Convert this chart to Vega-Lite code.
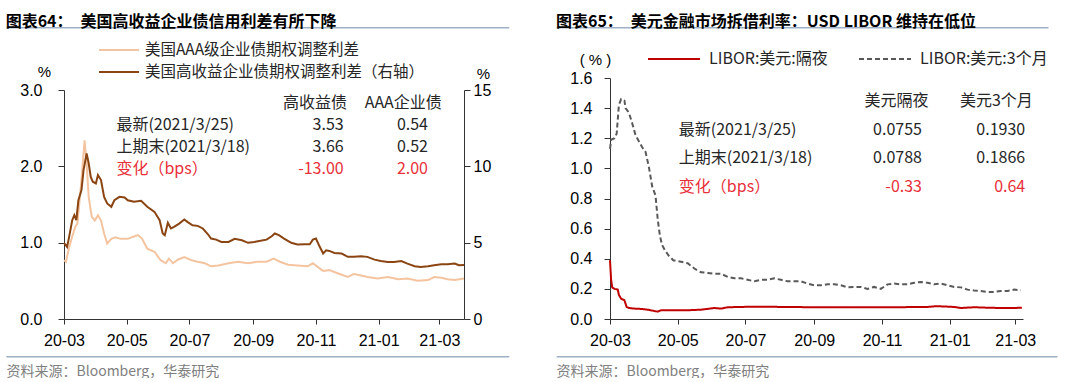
{
"$schema": "https://vega.github.io/schema/vega-lite/v6.json",
"background": "white",
"padding": {"left": 5, "top": 13, "right": 0, "bottom": 0},
"bounds": "flush",
"spacing": 146,
"config": {"view": {"stroke": null}, "font": "Liberation Sans"},
"resolve": {"scale": {"color": "independent", "strokeDash": "independent"}, "legend": {"color": "independent", "strokeDash": "independent"}},
"datasets": {
"aaa": [
{"date":"2020-03-01","v":0.77},{"date":"2020-03-03","v":0.75},{"date":"2020-03-06","v":0.94},{"date":"2020-03-09","v":1.08},{"date":"2020-03-12","v":1.21},{"date":"2020-03-14","v":1.25},{"date":"2020-03-18","v":1.82},{"date":"2020-03-21","v":2.34},{"date":"2020-03-23","v":2.04},{"date":"2020-03-25","v":1.60},{"date":"2020-03-28","v":1.34},{"date":"2020-03-31","v":1.29},{"date":"2020-04-03","v":1.36},{"date":"2020-04-06","v":1.29},{"date":"2020-04-09","v":1.12},{"date":"2020-04-12","v":0.99},{"date":"2020-04-16","v":1.05},{"date":"2020-04-20","v":1.07},{"date":"2020-04-25","v":1.05},{"date":"2020-05-02","v":1.05},{"date":"2020-05-08","v":1.08},{"date":"2020-05-12","v":1.10},{"date":"2020-05-16","v":1.05},{"date":"2020-05-21","v":0.92},{"date":"2020-05-28","v":0.88},{"date":"2020-06-03","v":0.77},{"date":"2020-06-08","v":0.73},{"date":"2020-06-11","v":0.79},{"date":"2020-06-15","v":0.73},{"date":"2020-06-20","v":0.78},{"date":"2020-06-26","v":0.81},{"date":"2020-07-03","v":0.77},{"date":"2020-07-09","v":0.75},{"date":"2020-07-16","v":0.73},{"date":"2020-07-22","v":0.69},{"date":"2020-07-29","v":0.70},{"date":"2020-08-08","v":0.73},{"date":"2020-08-17","v":0.75},{"date":"2020-08-27","v":0.73},{"date":"2020-09-05","v":0.75},{"date":"2020-09-14","v":0.75},{"date":"2020-09-21","v":0.79},{"date":"2020-09-27","v":0.75},{"date":"2020-10-05","v":0.71},{"date":"2020-10-14","v":0.70},{"date":"2020-10-24","v":0.69},{"date":"2020-10-29","v":0.73},{"date":"2020-11-03","v":0.68},{"date":"2020-11-08","v":0.63},{"date":"2020-11-14","v":0.64},{"date":"2020-11-22","v":0.60},{"date":"2020-12-02","v":0.55},{"date":"2020-12-08","v":0.59},{"date":"2020-12-15","v":0.57},{"date":"2020-12-21","v":0.55},{"date":"2020-12-31","v":0.53},{"date":"2021-01-10","v":0.55},{"date":"2021-01-20","v":0.52},{"date":"2021-01-29","v":0.53},{"date":"2021-02-08","v":0.50},{"date":"2021-02-18","v":0.51},{"date":"2021-02-24","v":0.55},{"date":"2021-03-03","v":0.54},{"date":"2021-03-09","v":0.52},{"date":"2021-03-16","v":0.51},{"date":"2021-03-25","v":0.53}
],
"hy": [
{"date":"2020-03-01","v":4.99},{"date":"2020-03-04","v":4.72},{"date":"2020-03-06","v":5.38},{"date":"2020-03-09","v":6.47},{"date":"2020-03-11","v":6.80},{"date":"2020-03-13","v":6.47},{"date":"2020-03-15","v":7.78},{"date":"2020-03-18","v":8.44},{"date":"2020-03-20","v":9.75},{"date":"2020-03-23","v":10.85},{"date":"2020-03-25","v":10.20},{"date":"2020-03-27","v":9.30},{"date":"2020-03-29","v":8.99},{"date":"2020-04-01","v":8.88},{"date":"2020-04-03","v":9.43},{"date":"2020-04-06","v":9.10},{"date":"2020-04-09","v":8.00},{"date":"2020-04-12","v":7.57},{"date":"2020-04-16","v":7.35},{"date":"2020-04-19","v":7.78},{"date":"2020-04-24","v":8.00},{"date":"2020-04-29","v":7.96},{"date":"2020-05-02","v":7.78},{"date":"2020-05-08","v":7.68},{"date":"2020-05-15","v":7.74},{"date":"2020-05-21","v":7.35},{"date":"2020-05-28","v":7.02},{"date":"2020-06-02","v":6.47},{"date":"2020-06-05","v":5.60},{"date":"2020-06-07","v":5.49},{"date":"2020-06-10","v":6.30},{"date":"2020-06-13","v":5.93},{"date":"2020-06-16","v":6.04},{"date":"2020-06-21","v":6.25},{"date":"2020-06-26","v":6.52},{"date":"2020-06-29","v":6.36},{"date":"2020-07-04","v":6.14},{"date":"2020-07-09","v":6.10},{"date":"2020-07-14","v":5.93},{"date":"2020-07-19","v":5.55},{"date":"2020-07-22","v":5.27},{"date":"2020-07-27","v":5.20},{"date":"2020-08-01","v":5.05},{"date":"2020-08-08","v":5.05},{"date":"2020-08-14","v":5.25},{"date":"2020-08-21","v":5.16},{"date":"2020-08-27","v":4.99},{"date":"2020-09-02","v":5.05},{"date":"2020-09-08","v":5.12},{"date":"2020-09-14","v":5.20},{"date":"2020-09-19","v":5.42},{"date":"2020-09-22","v":5.60},{"date":"2020-09-26","v":5.49},{"date":"2020-10-01","v":5.27},{"date":"2020-10-08","v":4.99},{"date":"2020-10-14","v":4.88},{"date":"2020-10-21","v":4.90},{"date":"2020-10-26","v":4.90},{"date":"2020-10-29","v":5.20},{"date":"2020-11-01","v":5.27},{"date":"2020-11-04","v":4.83},{"date":"2020-11-08","v":4.29},{"date":"2020-11-11","v":4.50},{"date":"2020-11-14","v":4.46},{"date":"2020-11-19","v":4.33},{"date":"2020-11-26","v":4.29},{"date":"2020-12-02","v":4.07},{"date":"2020-12-08","v":4.07},{"date":"2020-12-15","v":4.11},{"date":"2020-12-21","v":4.07},{"date":"2020-12-28","v":3.89},{"date":"2021-01-03","v":3.80},{"date":"2021-01-10","v":3.74},{"date":"2021-01-16","v":3.74},{"date":"2021-01-23","v":3.80},{"date":"2021-01-29","v":3.63},{"date":"2021-02-05","v":3.46},{"date":"2021-02-11","v":3.41},{"date":"2021-02-18","v":3.46},{"date":"2021-02-24","v":3.52},{"date":"2021-03-03","v":3.59},{"date":"2021-03-09","v":3.59},{"date":"2021-03-16","v":3.63},{"date":"2021-03-20","v":3.52},{"date":"2021-03-25","v":3.53}
],
"libor": [
{"date":"2020-03-01","s":"LIBOR:美元:隔夜","v":0.39},{"date":"2020-03-02","s":"LIBOR:美元:隔夜","v":0.26},{"date":"2020-03-03","s":"LIBOR:美元:隔夜","v":0.21},{"date":"2020-03-05","s":"LIBOR:美元:隔夜","v":0.20},{"date":"2020-03-08","s":"LIBOR:美元:隔夜","v":0.195},{"date":"2020-03-09","s":"LIBOR:美元:隔夜","v":0.16},{"date":"2020-03-11","s":"LIBOR:美元:隔夜","v":0.135},{"date":"2020-03-14","s":"LIBOR:美元:隔夜","v":0.124},{"date":"2020-03-16","s":"LIBOR:美元:隔夜","v":0.08},{"date":"2020-03-18","s":"LIBOR:美元:隔夜","v":0.073},{"date":"2020-03-23","s":"LIBOR:美元:隔夜","v":0.069},{"date":"2020-03-29","s":"LIBOR:美元:隔夜","v":0.067},{"date":"2020-04-04","s":"LIBOR:美元:隔夜","v":0.062},{"date":"2020-04-10","s":"LIBOR:美元:隔夜","v":0.053},{"date":"2020-04-13","s":"LIBOR:美元:隔夜","v":0.049},{"date":"2020-04-16","s":"LIBOR:美元:隔夜","v":0.058},{"date":"2020-04-27","s":"LIBOR:美元:隔夜","v":0.058},{"date":"2020-05-10","s":"LIBOR:美元:隔夜","v":0.058},{"date":"2020-05-22","s":"LIBOR:美元:隔夜","v":0.062},{"date":"2020-05-28","s":"LIBOR:美元:隔夜","v":0.067},{"date":"2020-06-03","s":"LIBOR:美元:隔夜","v":0.073},{"date":"2020-06-09","s":"LIBOR:美元:隔夜","v":0.069},{"date":"2020-06-15","s":"LIBOR:美元:隔夜","v":0.078},{"date":"2020-06-27","s":"LIBOR:美元:隔夜","v":0.080},{"date":"2020-07-09","s":"LIBOR:美元:隔夜","v":0.082},{"date":"2020-07-21","s":"LIBOR:美元:隔夜","v":0.082},{"date":"2020-08-02","s":"LIBOR:美元:隔夜","v":0.080},{"date":"2020-08-14","s":"LIBOR:美元:隔夜","v":0.080},{"date":"2020-08-26","s":"LIBOR:美元:隔夜","v":0.078},{"date":"2020-09-07","s":"LIBOR:美元:隔夜","v":0.078},{"date":"2020-09-19","s":"LIBOR:美元:隔夜","v":0.078},{"date":"2020-10-01","s":"LIBOR:美元:隔夜","v":0.078},{"date":"2020-10-13","s":"LIBOR:美元:隔夜","v":0.078},{"date":"2020-10-25","s":"LIBOR:美元:隔夜","v":0.078},{"date":"2020-11-06","s":"LIBOR:美元:隔夜","v":0.078},{"date":"2020-11-18","s":"LIBOR:美元:隔夜","v":0.078},{"date":"2020-11-30","s":"LIBOR:美元:隔夜","v":0.080},{"date":"2020-12-12","s":"LIBOR:美元:隔夜","v":0.080},{"date":"2020-12-18","s":"LIBOR:美元:隔夜","v":0.084},{"date":"2020-12-24","s":"LIBOR:美元:隔夜","v":0.084},{"date":"2021-01-05","s":"LIBOR:美元:隔夜","v":0.080},{"date":"2021-01-11","s":"LIBOR:美元:隔夜","v":0.073},{"date":"2021-01-23","s":"LIBOR:美元:隔夜","v":0.078},{"date":"2021-02-04","s":"LIBOR:美元:隔夜","v":0.075},{"date":"2021-02-16","s":"LIBOR:美元:隔夜","v":0.073},{"date":"2021-02-28","s":"LIBOR:美元:隔夜","v":0.073},{"date":"2021-03-07","s":"LIBOR:美元:隔夜","v":0.0755},
{"date":"2020-03-01","s":"LIBOR:美元:3个月","v":1.13},{"date":"2020-03-02","s":"LIBOR:美元:3个月","v":1.19},{"date":"2020-03-05","s":"LIBOR:美元:3个月","v":1.20},{"date":"2020-03-07","s":"LIBOR:美元:3个月","v":1.23},{"date":"2020-03-09","s":"LIBOR:美元:3个月","v":1.42},{"date":"2020-03-11","s":"LIBOR:美元:3个月","v":1.46},{"date":"2020-03-14","s":"LIBOR:美元:3个月","v":1.45},{"date":"2020-03-15","s":"LIBOR:美元:3个月","v":1.40},{"date":"2020-03-18","s":"LIBOR:美元:3个月","v":1.37},{"date":"2020-03-21","s":"LIBOR:美元:3个月","v":1.30},{"date":"2020-03-24","s":"LIBOR:美元:3个月","v":1.22},{"date":"2020-03-27","s":"LIBOR:美元:3个月","v":1.18},{"date":"2020-03-30","s":"LIBOR:美元:3个月","v":1.14},{"date":"2020-04-02","s":"LIBOR:美元:3个月","v":1.11},{"date":"2020-04-05","s":"LIBOR:美元:3个月","v":1.01},{"date":"2020-04-08","s":"LIBOR:美元:3个月","v":0.88},{"date":"2020-04-11","s":"LIBOR:美元:3个月","v":0.82},{"date":"2020-04-13","s":"LIBOR:美元:3个月","v":0.66},{"date":"2020-04-15","s":"LIBOR:美元:3个月","v":0.55},{"date":"2020-04-17","s":"LIBOR:美元:3个月","v":0.49},{"date":"2020-04-20","s":"LIBOR:美元:3个月","v":0.45},{"date":"2020-04-23","s":"LIBOR:美元:3个月","v":0.42},{"date":"2020-04-27","s":"LIBOR:美元:3个月","v":0.39},{"date":"2020-05-04","s":"LIBOR:美元:3个月","v":0.38},{"date":"2020-05-10","s":"LIBOR:美元:3个月","v":0.37},{"date":"2020-05-16","s":"LIBOR:美元:3个月","v":0.335},{"date":"2020-05-22","s":"LIBOR:美元:3个月","v":0.31},{"date":"2020-05-28","s":"LIBOR:美元:3个月","v":0.306},{"date":"2020-06-03","s":"LIBOR:美元:3个月","v":0.30},{"date":"2020-06-09","s":"LIBOR:美元:3个月","v":0.30},{"date":"2020-06-15","s":"LIBOR:美元:3个月","v":0.28},{"date":"2020-06-21","s":"LIBOR:美元:3个月","v":0.27},{"date":"2020-06-27","s":"LIBOR:美元:3个月","v":0.27},{"date":"2020-07-03","s":"LIBOR:美元:3个月","v":0.26},{"date":"2020-07-09","s":"LIBOR:美元:3个月","v":0.25},{"date":"2020-07-15","s":"LIBOR:美元:3个月","v":0.26},{"date":"2020-07-21","s":"LIBOR:美元:3个月","v":0.26},{"date":"2020-07-27","s":"LIBOR:美元:3个月","v":0.27},{"date":"2020-08-02","s":"LIBOR:美元:3个月","v":0.26},{"date":"2020-08-08","s":"LIBOR:美元:3个月","v":0.25},{"date":"2020-08-14","s":"LIBOR:美元:3个月","v":0.25},{"date":"2020-08-20","s":"LIBOR:美元:3个月","v":0.25},{"date":"2020-08-26","s":"LIBOR:美元:3个月","v":0.235},{"date":"2020-09-01","s":"LIBOR:美元:3个月","v":0.224},{"date":"2020-09-07","s":"LIBOR:美元:3个月","v":0.224},{"date":"2020-09-13","s":"LIBOR:美元:3个月","v":0.23},{"date":"2020-09-19","s":"LIBOR:美元:3个月","v":0.23},{"date":"2020-09-25","s":"LIBOR:美元:3个月","v":0.224},{"date":"2020-10-01","s":"LIBOR:美元:3个月","v":0.21},{"date":"2020-10-07","s":"LIBOR:美元:3个月","v":0.213},{"date":"2020-10-13","s":"LIBOR:美元:3个月","v":0.213},{"date":"2020-10-19","s":"LIBOR:美元:3个月","v":0.20},{"date":"2020-10-25","s":"LIBOR:美元:3个月","v":0.213},{"date":"2020-10-31","s":"LIBOR:美元:3个月","v":0.20},{"date":"2020-11-06","s":"LIBOR:美元:3个月","v":0.23},{"date":"2020-11-12","s":"LIBOR:美元:3个月","v":0.235},{"date":"2020-11-18","s":"LIBOR:美元:3个月","v":0.23},{"date":"2020-11-24","s":"LIBOR:美元:3个月","v":0.23},{"date":"2020-11-30","s":"LIBOR:美元:3个月","v":0.24},{"date":"2020-12-06","s":"LIBOR:美元:3个月","v":0.246},{"date":"2020-12-12","s":"LIBOR:美元:3个月","v":0.24},{"date":"2020-12-18","s":"LIBOR:美元:3个月","v":0.23},{"date":"2020-12-24","s":"LIBOR:美元:3个月","v":0.235},{"date":"2020-12-30","s":"LIBOR:美元:3个月","v":0.224},{"date":"2021-01-05","s":"LIBOR:美元:3个月","v":0.213},{"date":"2021-01-11","s":"LIBOR:美元:3个月","v":0.21},{"date":"2021-01-17","s":"LIBOR:美元:3个月","v":0.195},{"date":"2021-01-23","s":"LIBOR:美元:3个月","v":0.19},{"date":"2021-01-29","s":"LIBOR:美元:3个月","v":0.186},{"date":"2021-02-04","s":"LIBOR:美元:3个月","v":0.18},{"date":"2021-02-10","s":"LIBOR:美元:3个月","v":0.18},{"date":"2021-02-16","s":"LIBOR:美元:3个月","v":0.186},{"date":"2021-02-22","s":"LIBOR:美元:3个月","v":0.186},{"date":"2021-02-28","s":"LIBOR:美元:3个月","v":0.195},{"date":"2021-03-06","s":"LIBOR:美元:3个月","v":0.19}
],
"t64": [{"row":1,"item":"最新(2021/3/25)","hy":"3.53","aaa":"0.54"},{"row":2,"item":"上期末(2021/3/18)","hy":"3.66","aaa":"0.52"},{"row":3,"item":"变化（bps）","hy":"-13.00","aaa":"2.00"}],
"h64": [{"row":0,"c1":"高收益债","c2":"AAA企业债"}],
"t65": [{"row":1,"item":"最新(2021/3/25)","on":"0.0755","m3":"0.1930"},{"row":2,"item":"上期末(2021/3/18)","on":"0.0788","m3":"0.1866"},{"row":3,"item":"变化（bps）","on":"-0.33","m3":"0.64"}],
"h65": [{"row":0,"c1":"美元隔夜","c2":"美元3个月"}]
},
"hconcat": [
{
"width": 400, "height": 241,
"title": {"text": "图表64：\u3000美国高收益企业债信用利差有所下降", "anchor": "start", "frame": "bounds", "font": "Noto Sans CJK SC", "fontSize": 16, "fontWeight": "bold", "color": "#000000", "offset": -19, "baseline": "bottom"},
"resolve": {"scale": {"y": "independent"}},
"layer": [
{"data": {"name": "aaa"}, "mark": {"type": "line", "strokeWidth": 2},
 "encoding": {
  "x": {"field": "date", "type": "temporal", "scale": {"type": "utc", "domain": [{"year":2020,"month":3,"date":1,"utc":true},{"year":2021,"month":3,"date":25,"utc":true}]},
   "axis": {"values": [{"year":2020,"month":3,"date":1,"utc":true},{"year":2020,"month":5,"date":1,"utc":true},{"year":2020,"month":7,"date":1,"utc":true},{"year":2020,"month":9,"date":1,"utc":true},{"year":2020,"month":11,"date":1,"utc":true},{"year":2021,"month":1,"date":1,"utc":true},{"year":2021,"month":3,"date":1,"utc":true}],
    "format": "%y-%m", "labelFont": "Liberation Sans", "labelFontSize": 16, "labelColor": "#000000", "labelPadding": 8, "labelFlush": false, "labelOverlap": false, "tickSize": 5, "tickColor": "#333333", "domainColor": "#333333", "grid": false,
    "title": "资料来源：Bloomberg，华泰研究", "titleFont": "Noto Sans CJK SC", "titleFontSize": 14, "titleFontWeight": "normal", "titleColor": "#808080", "titleAlign": "left", "titleAnchor": "start", "titleX": -58, "titleY": 52, "titleBaseline": "middle"}},
  "y": {"field": "v", "type": "quantitative", "scale": {"domain": [0, 3], "range": [241, 12], "nice": false, "zero": false},
   "axis": {"orient": "left", "values": [0, 1, 2, 3], "format": ".1f", "labelFont": "Liberation Sans", "labelFontSize": 16, "labelColor": "#000000", "labelPadding": 16, "tickSize": 6, "tickColor": "#333333", "domainColor": "#333333", "grid": false,
    "title": "%", "titleAngle": 0, "titleX": -20, "titleY": -7, "titleAlign": "center", "titleBaseline": "middle", "titleFont": "Liberation Sans", "titleFontSize": 15, "titleFontWeight": "normal", "titleColor": "#000000"}},
  "color": {"datum": "美国AAA级企业债期权调整利差", "scale": {"domain": ["美国AAA级企业债期权调整利差", "美国高收益企业债期权调整利差（右轴）"], "range": ["#f4c4a0", "#8b4513"]},
   "legend": {"orient": "none", "legendX": 34, "legendY": -36, "direction": "vertical", "title": null, "symbolType": "stroke", "symbolSize": 1600, "symbolStrokeWidth": 2, "labelFont": "Noto Sans CJK SC", "labelFontSize": 15.5, "labelColor": "#262626", "labelOffset": 5, "rowPadding": 5, "clipHeight": 16, "padding": 0, "labelLimit": 400}}
 }},
{"data": {"name": "hy"}, "mark": {"type": "line", "strokeWidth": 2},
 "encoding": {
  "x": {"field": "date", "type": "temporal", "scale": {"type": "utc", "domain": [{"year":2020,"month":3,"date":1,"utc":true},{"year":2021,"month":3,"date":25,"utc":true}]}},
  "y": {"field": "v", "type": "quantitative", "scale": {"domain": [0, 15], "range": [241, 12], "nice": false, "zero": false},
   "axis": {"orient": "right", "values": [0, 5, 10, 15], "format": "d", "labelFont": "Liberation Sans", "labelFontSize": 16, "labelColor": "#000000", "labelPadding": 3, "tickSize": 6, "tickColor": "#333333", "domainColor": "#333333", "grid": false,
    "title": "%", "titleAngle": 0, "titleX": 19, "titleY": -5, "titleAlign": "center", "titleBaseline": "middle", "titleFont": "Liberation Sans", "titleFontSize": 15, "titleFontWeight": "normal", "titleColor": "#000000"}},
  "color": {"datum": "美国高收益企业债期权调整利差（右轴）"}
 }},
{"data": {"values": [{}]}, "mark": {"type": "rule", "color": "#9db0c6", "strokeWidth": 1.5},
 "encoding": {
  "x": {"datum": {"year":2020,"month":1,"date":5,"utc":true}, "type": "temporal", "scale": {"type": "utc", "domain": [{"year":2020,"month":3,"date":1,"utc":true},{"year":2021,"month":3,"date":25,"utc":true}]}},
  "x2": {"datum": {"year":2021,"month":5,"date":8,"utc":true}},
  "y": {"datum": 3.816, "type": "quantitative", "scale": {"domain": [0, 3], "range": [241, 12], "nice": false, "zero": false}, "axis": null}
 }},
{"data": {"values": [{}]}, "mark": {"type": "rule", "color": "#9db0c6", "strokeWidth": 1.5},
 "encoding": {
  "x": {"datum": {"year":2020,"month":1,"date":5,"utc":true}, "type": "temporal", "scale": {"type": "utc", "domain": [{"year":2020,"month":3,"date":1,"utc":true},{"year":2021,"month":3,"date":25,"utc":true}]}},
  "x2": {"datum": {"year":2021,"month":5,"date":8,"utc":true}},
  "y": {"datum": -0.494, "type": "quantitative", "scale": {"domain": [0, 3], "range": [241, 12], "nice": false, "zero": false}, "axis": null}
 }},
{"data": {"name": "h64"}, "mark": {"type": "text", "align": "center", "baseline": "middle", "font": "Noto Sans CJK SC", "fontSize": 16, "color": "#262626"},
 "encoding": {
  "x": {"datum": {"year":2020,"month":10,"date":31,"utc":true}, "type": "temporal", "scale": {"type": "utc", "domain": [{"year":2020,"month":3,"date":1,"utc":true},{"year":2021,"month":3,"date":25,"utc":true}]}},
  "y": {"field": "row", "type": "quantitative", "scale": {"domain": [0, 3], "range": [24.7, 90.5], "nice": false, "zero": false}, "axis": null},
  "text": {"field": "c1"}
 }},
{"data": {"name": "h64"}, "mark": {"type": "text", "align": "center", "baseline": "middle", "font": "Noto Sans CJK SC", "fontSize": 16, "color": "#262626"},
 "encoding": {
  "x": {"datum": {"year":2021,"month":1,"date":25,"utc":true}, "type": "temporal", "scale": {"type": "utc", "domain": [{"year":2020,"month":3,"date":1,"utc":true},{"year":2021,"month":3,"date":25,"utc":true}]}},
  "y": {"field": "row", "type": "quantitative", "scale": {"domain": [0, 3], "range": [24.7, 90.5], "nice": false, "zero": false}, "axis": null},
  "text": {"field": "c2"}
 }},
{"data": {"name": "t64"}, "mark": {"type": "text", "align": "left", "baseline": "middle", "font": "Noto Sans CJK SC", "fontSize": 16},
 "encoding": {
  "x": {"datum": {"year":2020,"month":4,"date":21,"utc":true}, "type": "temporal", "scale": {"type": "utc", "domain": [{"year":2020,"month":3,"date":1,"utc":true},{"year":2021,"month":3,"date":25,"utc":true}]}},
  "y": {"field": "row", "type": "quantitative", "scale": {"domain": [0, 3], "range": [24.7, 90.5], "nice": false, "zero": false}, "axis": null},
  "text": {"field": "item"},
  "color": {"condition": {"test": "datum.row === 3", "value": "#e8303a"}, "value": "#262626"}
 }},
{"data": {"name": "t64"}, "mark": {"type": "text", "align": "right", "baseline": "middle", "font": "Noto Sans CJK SC", "fontSize": 16},
 "encoding": {
  "x": {"datum": {"year":2020,"month":11,"date":28,"utc":true}, "type": "temporal", "scale": {"type": "utc", "domain": [{"year":2020,"month":3,"date":1,"utc":true},{"year":2021,"month":3,"date":25,"utc":true}]}},
  "y": {"field": "row", "type": "quantitative", "scale": {"domain": [0, 3], "range": [24.7, 90.5], "nice": false, "zero": false}, "axis": null},
  "text": {"field": "hy"},
  "color": {"condition": {"test": "datum.row === 3", "value": "#e8303a"}, "value": "#262626"}
 }},
{"data": {"name": "t64"}, "mark": {"type": "text", "align": "right", "baseline": "middle", "font": "Noto Sans CJK SC", "fontSize": 16},
 "encoding": {
  "x": {"datum": {"year":2021,"month":2,"date":18,"utc":true}, "type": "temporal", "scale": {"type": "utc", "domain": [{"year":2020,"month":3,"date":1,"utc":true},{"year":2021,"month":3,"date":25,"utc":true}]}},
  "y": {"field": "row", "type": "quantitative", "scale": {"domain": [0, 3], "range": [24.7, 90.5], "nice": false, "zero": false}, "axis": null},
  "text": {"field": "aaa"},
  "color": {"condition": {"test": "datum.row === 3", "value": "#e8303a"}, "value": "#262626"}
 }}
]
},
{
"width": 413, "height": 241,
"title": {"text": "图表65：\u3000美元金融市场拆借利率：USD LIBOR 维持在低位", "anchor": "start", "frame": "bounds", "font": "Noto Sans CJK SC", "fontSize": 16, "fontWeight": "bold", "color": "#000000", "offset": -19, "baseline": "bottom"},
"resolve": {"scale": {"y": "independent"}},
"layer": [
{"data": {"name": "libor"}, "mark": {"type": "line", "strokeWidth": 2},
 "encoding": {
  "x": {"field": "date", "type": "temporal", "scale": {"type": "utc", "domain": [{"year":2020,"month":3,"date":1,"utc":true},{"year":2021,"month":3,"date":8,"utc":true}]},
   "axis": {"values": [{"year":2020,"month":3,"date":1,"utc":true},{"year":2020,"month":5,"date":1,"utc":true},{"year":2020,"month":7,"date":1,"utc":true},{"year":2020,"month":9,"date":1,"utc":true},{"year":2020,"month":11,"date":1,"utc":true},{"year":2021,"month":1,"date":1,"utc":true},{"year":2021,"month":3,"date":1,"utc":true}],
    "format": "%y-%m", "labelFont": "Liberation Sans", "labelFontSize": 16, "labelColor": "#000000", "labelPadding": 8, "labelFlush": false, "labelOverlap": false, "tickSize": 5, "tickColor": "#333333", "domainColor": "#333333", "grid": false,
    "title": "资料来源：Bloomberg，华泰研究", "titleFont": "Noto Sans CJK SC", "titleFontSize": 14, "titleFontWeight": "normal", "titleColor": "#808080", "titleAlign": "left", "titleAnchor": "start", "titleX": -54, "titleY": 52, "titleBaseline": "middle"}},
  "y": {"field": "v", "type": "quantitative", "scale": {"domain": [0, 1.6], "nice": false, "zero": false},
   "axis": {"orient": "left", "values": [0, 0.2, 0.4, 0.6, 0.8, 1.0, 1.2, 1.4, 1.6], "format": ".1f", "labelFont": "Liberation Sans", "labelFontSize": 16, "labelColor": "#000000", "labelPadding": 12, "tickSize": 6, "tickColor": "#333333", "domainColor": "#333333", "grid": false,
    "title": "( % )", "titleAngle": 0, "titleX": -15, "titleY": -19, "titleAlign": "center", "titleBaseline": "middle", "titleFont": "Liberation Sans", "titleFontSize": 15, "titleFontWeight": "normal", "titleColor": "#000000"}},
  "color": {"field": "s", "type": "nominal", "scale": {"domain": ["LIBOR:美元:隔夜", "LIBOR:美元:3个月"], "range": ["#c00000", "#595959"]},
   "legend": {"orient": "none", "legendX": 37, "legendY": -27, "direction": "horizontal", "columns": 2, "title": null, "symbolType": "stroke", "symbolSize": 2704, "symbolStrokeWidth": 2, "labelFont": "Noto Sans CJK SC", "labelFontSize": 16, "labelColor": "#262626", "labelOffset": 8, "columnPadding": 30, "clipHeight": 16, "padding": 0, "labelLimit": 400}},
  "strokeDash": {"field": "s", "type": "nominal", "scale": {"domain": ["LIBOR:美元:隔夜", "LIBOR:美元:3个月"], "range": [[1, 0], [5, 3]]}}
 }},
{"data": {"values": [{}]}, "mark": {"type": "rule", "color": "#9db0c6", "strokeWidth": 1.5},
 "encoding": {
  "x": {"datum": {"year":2020,"month":1,"date":13,"utc":true}, "type": "temporal", "scale": {"type": "utc", "domain": [{"year":2020,"month":3,"date":1,"utc":true},{"year":2021,"month":3,"date":8,"utc":true}]}},
  "x2": {"datum": {"year":2021,"month":3,"date":31,"utc":true}},
  "y": {"datum": 1.934, "type": "quantitative", "scale": {"domain": [0, 1.6], "nice": false, "zero": false}, "axis": null}
 }},
{"data": {"values": [{}]}, "mark": {"type": "rule", "color": "#9db0c6", "strokeWidth": 1.5},
 "encoding": {
  "x": {"datum": {"year":2020,"month":1,"date":13,"utc":true}, "type": "temporal", "scale": {"type": "utc", "domain": [{"year":2020,"month":3,"date":1,"utc":true},{"year":2021,"month":3,"date":8,"utc":true}]}},
  "x2": {"datum": {"year":2021,"month":4,"date":8,"utc":true}},
  "y": {"datum": -0.25, "type": "quantitative", "scale": {"domain": [0, 1.6], "nice": false, "zero": false}, "axis": null}
 }},
{"data": {"name": "h65"}, "mark": {"type": "text", "align": "center", "baseline": "middle", "font": "Noto Sans CJK SC", "fontSize": 16, "color": "#262626"},
 "encoding": {
  "x": {"datum": {"year":2020,"month":11,"date":14,"utc":true}, "type": "temporal", "scale": {"type": "utc", "domain": [{"year":2020,"month":3,"date":1,"utc":true},{"year":2021,"month":3,"date":8,"utc":true}]}},
  "y": {"field": "row", "type": "quantitative", "scale": {"domain": [0, 3], "range": [23, 108.8], "nice": false, "zero": false}, "axis": null},
  "text": {"field": "c1"}
 }},
{"data": {"name": "h65"}, "mark": {"type": "text", "align": "center", "baseline": "middle", "font": "Noto Sans CJK SC", "fontSize": 16, "color": "#262626"},
 "encoding": {
  "x": {"datum": {"year":2021,"month":2,"date":12,"utc":true}, "type": "temporal", "scale": {"type": "utc", "domain": [{"year":2020,"month":3,"date":1,"utc":true},{"year":2021,"month":3,"date":8,"utc":true}]}},
  "y": {"field": "row", "type": "quantitative", "scale": {"domain": [0, 3], "range": [23, 108.8], "nice": false, "zero": false}, "axis": null},
  "text": {"field": "c2"}
 }},
{"data": {"name": "t65"}, "mark": {"type": "text", "align": "left", "baseline": "middle", "font": "Noto Sans CJK SC", "fontSize": 16},
 "encoding": {
  "x": {"datum": {"year":2020,"month":5,"date":2,"utc":true}, "type": "temporal", "scale": {"type": "utc", "domain": [{"year":2020,"month":3,"date":1,"utc":true},{"year":2021,"month":3,"date":8,"utc":true}]}},
  "y": {"field": "row", "type": "quantitative", "scale": {"domain": [0, 3], "range": [23, 108.8], "nice": false, "zero": false}, "axis": null},
  "text": {"field": "item"},
  "color": {"condition": {"test": "datum.row === 3", "value": "#e8303a"}, "value": "#262626"}
 }},
{"data": {"name": "t65"}, "mark": {"type": "text", "align": "right", "baseline": "middle", "font": "Noto Sans CJK SC", "fontSize": 16},
 "encoding": {
  "x": {"datum": {"year":2020,"month":12,"date":7,"utc":true}, "type": "temporal", "scale": {"type": "utc", "domain": [{"year":2020,"month":3,"date":1,"utc":true},{"year":2021,"month":3,"date":8,"utc":true}]}},
  "y": {"field": "row", "type": "quantitative", "scale": {"domain": [0, 3], "range": [23, 108.8], "nice": false, "zero": false}, "axis": null},
  "text": {"field": "on"},
  "color": {"condition": {"test": "datum.row === 3", "value": "#e8303a"}, "value": "#262626"}
 }},
{"data": {"name": "t65"}, "mark": {"type": "text", "align": "right", "baseline": "middle", "font": "Noto Sans CJK SC", "fontSize": 16},
 "encoding": {
  "x": {"datum": {"year":2021,"month":3,"date":10,"utc":true}, "type": "temporal", "scale": {"type": "utc", "domain": [{"year":2020,"month":3,"date":1,"utc":true},{"year":2021,"month":3,"date":8,"utc":true}]}},
  "y": {"field": "row", "type": "quantitative", "scale": {"domain": [0, 3], "range": [23, 108.8], "nice": false, "zero": false}, "axis": null},
  "text": {"field": "m3"},
  "color": {"condition": {"test": "datum.row === 3", "value": "#e8303a"}, "value": "#262626"}
 }}
]
}
]
}
